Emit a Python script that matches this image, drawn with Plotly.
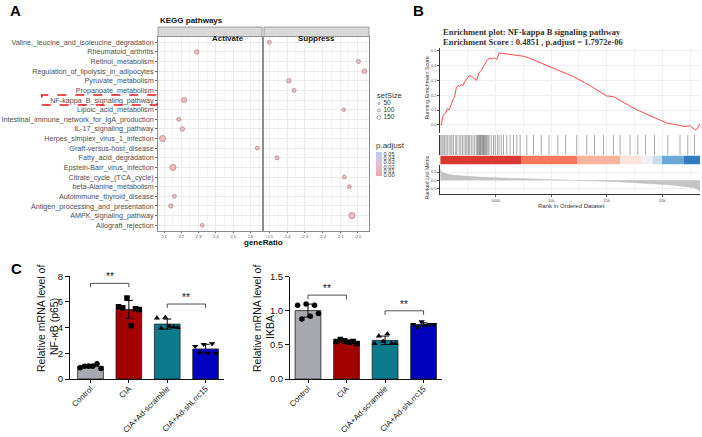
import plotly.graph_objects as go
import numpy as np

W, H = 702, 437
def fx(px): return px / W
def fy(py): return 1 - py / H

SANS = "Arial, Liberation Sans, sans-serif"
SERIF = "Liberation Serif, Times New Roman, serif"

# ---------------- Panel A data ----------------
pathways = ["Valine,_leucine_and_isoleucine_degradation", "Rheumatoid_arthritis", "Retinol_metabolism",
            "Regulation_of_lipolysis_in_adipocytes", "Pyruvate_metabolism", "Propanoate_metabolism",
            "NF-kappa_B_signaling_pathway", "Lipoic_acid_metabolism",
            "Intestinal_immune_network_for_IgA_production", "IL-17_signaling_pathway",
            "Herpes_simplex_virus_1_infection", "Graft-versus-host_disease", "Fatty_acid_degradation",
            "Epstein-Barr_virus_infection", "Citrate_cycle_(TCA_cycle)", "beta-Alanine_metabolism",
            "Autoimmune_thyroid_disease", "Antigen_processing_and_presentation", "AMPK_signaling_pathway",
            "Allograft_rejection"]

act_paths = ["Rheumatoid_arthritis", "NF-kappa_B_signaling_pathway", "Intestinal_immune_network_for_IgA_production",
             "IL-17_signaling_pathway", "Herpes_simplex_virus_1_infection", "Graft-versus-host_disease",
             "Epstein-Barr_virus_infection", "Autoimmune_thyroid_disease", "Antigen_processing_and_presentation",
             "Allograft_rejection"]
act_ratio = [2.289, 2.216, 2.185, 2.206, 2.092, 2.639, 2.152, 2.160, 2.139, 2.321]
act_size = [90, 110, 70, 90, 150, 65, 145, 65, 80, 60]
act_padj = [0.001, 0.0005, 0.002, 0.001, 0.0008, 0.003, 0.0007, 0.002, 0.001, 0.002]

sup_paths = ["Valine,_leucine_and_isoleucine_degradation", "Retinol_metabolism",
             "Regulation_of_lipolysis_in_adipocytes", "Pyruvate_metabolism", "Propanoate_metabolism",
             "Lipoic_acid_metabolism", "Fatty_acid_degradation", "Citrate_cycle_(TCA_cycle)",
             "beta-Alanine_metabolism", "AMPK_signaling_pathway"]
sup_ratio = [-2.500, -1.997, -1.963, -2.390, -2.360, -2.080, -2.457, -2.076, -2.048, -2.033]
sup_size = [65, 70, 90, 85, 70, 55, 70, 65, 65, 150]
sup_padj = [0.002, 0.002, 0.001, 0.001, 0.002, 0.003, 0.002, 0.002, 0.002, 0.0008]

size_levels = [50, 100, 150]
padj_ticks = [0.00, 0.01, 0.02, 0.03, 0.04, 0.05]
act_ticks = [2.1, 2.2, 2.3, 2.4, 2.5, 2.6]
sup_ticks = [-2.5, -2.4, -2.3, -2.2, -2.1, -2.0]

# ---------------- Panel B data ----------------
es_rank = [0, 120, 200, 300, 500, 650, 800, 1000, 1150, 1300, 1450, 1600, 1750, 1900, 2050, 2200, 2400,
           2600, 2800, 3000, 3300, 3450, 3600, 3750, 3900, 4050, 4200, 4350, 4500, 4700, 4900, 5100, 5300,
           5600, 6000, 6500, 7000, 7500, 8000, 9000, 10000, 11000, 12000, 13000, 14000, 15000, 15600,
           16500, 17500, 18500, 19500, 20500, 21000, 21500, 22000, 22500, 23000, 23200, 23400]
es_score = [0.0, 0.0, 0.05, 0.07, 0.08, 0.11, 0.10, 0.15, 0.17, 0.19, 0.25, 0.265, 0.26, 0.27, 0.265, 0.29,
            0.31, 0.33, 0.33, 0.315, 0.30, 0.345, 0.36, 0.37, 0.395, 0.41, 0.435, 0.44, 0.45, 0.445, 0.45,
            0.44, 0.485, 0.48, 0.478, 0.472, 0.466, 0.462, 0.45, 0.42, 0.39, 0.36, 0.325, 0.285, 0.24,
            0.195, 0.19, 0.15, 0.11, 0.075, 0.04, 0.01, 0.005, 0.0, -0.01, -0.005, -0.035, -0.02, 0.01]
hit_ranks = [40, 150, 260, 380, 520, 640, 800, 950, 1050, 1200, 1400, 1500, 1700, 1850, 2000, 2150, 2300,
             2400, 2550, 2650, 2800, 2950, 3100, 3250, 3350, 3420, 3500, 3560, 3620, 3700, 3780, 3850,
             3900, 3980, 4050, 4130, 4200, 4300, 4400, 4600, 4800, 4950, 5150, 5300, 5500, 5700, 6000,
             6300, 6600, 6900, 7200, 7800, 8400, 9100, 9800, 10600, 11300, 12300, 13200, 13900, 14700,
             15600, 16200, 17100, 17800, 18500, 19300, 20500, 21600, 22300, 22900]
metric_rank = [0, 100, 300, 700, 1200, 2000, 3500, 5000, 7500, 9500, 11500, 12500, 14000, 16000, 18000,
               19800, 21000, 22000, 22800, 23200, 23400]
metric_val = [0.68, 0.55, 0.45, 0.36, 0.3, 0.25, 0.19, 0.15, 0.11, 0.07, 0.03, 0.0, -0.04, -0.09, -0.15,
              -0.24, -0.3, -0.37, -0.45, -0.56, -0.7]
strip_edges = [0, 7280, 12320, 16200, 18160, 19170, 19980, 21960, 23400]
strip_colors = ["#d93a33", "#f7785a", "#fbb39d", "#fde3d8", "#eef0f9", "#c7dcee", "#6aaad9", "#2f7bc0"]
rank_ticks = [5000, 10000, 15000, 20000]

# ---------------- Panel C data ----------------
groups = ["Control", "CIA", "CIA+Ad-scramble", "CIA+Ad-shLrrc15"]
group_colors = ["#a8a8b0", "#a30000", "#0b7b8c", "#0000bf"]
group_symbols = ["circle", "square", "triangle-up", "triangle-down"]
nfkb_vals = [[0.88, 1.0, 1.02, 1.02, 1.18, 0.82],
             [5.62, 5.55, 6.3, 4.15, 5.48, 5.42],
             [4.75, 3.95, 4.8, 4.1, 4.05, 4.0],
             [2.55, 2.05, 2.7, 2.0, 2.75, 2.0]]
ikba_vals = [[1.08, 0.88, 1.1, 0.92, 1.08, 0.96],
             [0.55, 0.58, 0.56, 0.54, 0.55, 0.52],
             [0.52, 0.63, 0.55, 0.66, 0.52, 0.52],
             [0.8, 0.76, 0.84, 0.79, 0.8, 0.8]]
nfkb_brackets = [(0, 1, 7.45, "**"), (2, 3, 5.84, "**")]
ikba_brackets = [(0, 1, 1.23, "**"), (2, 3, 1.0, "**")]

# ---------------- Build figure ----------------
fig = go.Figure()

def size_px(s):
    return 2.0 + s / 36.0

cscale = [[0, "#f4a3a3"], [0.5, "#dcc3d2"], [1, "#b8cde6"]]

fig.add_trace(go.Scatter(
    x=act_ratio, y=[pathways.index(p) for p in act_paths], mode="markers", xaxis="x", yaxis="y",
    marker=dict(size=[size_px(s) for s in act_size], color=act_padj, coloraxis="coloraxis",
                line=dict(color="#8a5555", width=0.8)), hoverinfo="skip"))
fig.add_trace(go.Scatter(
    x=sup_ratio, y=[pathways.index(p) for p in sup_paths], mode="markers", xaxis="x2", yaxis="y2",
    marker=dict(size=[size_px(s) for s in sup_size], color=sup_padj, coloraxis="coloraxis",
                line=dict(color="#8a5555", width=0.8)), hoverinfo="skip"))
# setSize legend
fig.add_trace(go.Scatter(
    x=[0] * len(size_levels), y=list(range(len(size_levels))), mode="markers", xaxis="x9", yaxis="y9",
    marker=dict(size=[size_px(s) * 0.6 for s in size_levels], color="white",
                line=dict(color="#555", width=0.8)), hoverinfo="skip", cliponaxis=False))
fig.add_trace(go.Scatter(
    x=[0.9] * len(size_levels), y=list(range(len(size_levels))), mode="text", xaxis="x9", yaxis="y9",
    text=[str(s) for s in size_levels], textposition="middle right",
    textfont=dict(family=SANS, size=6.5, color="#333"), hoverinfo="skip", cliponaxis=False))

# Panel B traces
fig.add_trace(go.Scatter(x=es_rank, y=es_score, mode="lines", xaxis="x3", yaxis="y3",
                         line=dict(color="#ff4a4a", width=1), hoverinfo="skip"))
bx, by = [], []
for r in hit_ranks:
    bx += [r, r, None]
    by += [0, 1, None]
fig.add_trace(go.Scatter(x=bx, y=by, mode="lines", xaxis="x4", yaxis="y4",
                         line=dict(color="rgba(40,40,40,0.5)", width=0.8), hoverinfo="skip"))
fig.add_trace(go.Bar(y=[0] * len(strip_colors), x=np.diff(strip_edges), base=strip_edges[:-1],
                     orientation="h", xaxis="x5", yaxis="y5", width=1,
                     marker=dict(color=strip_colors, line=dict(width=0)), hoverinfo="skip"))
fig.add_trace(go.Scatter(x=metric_rank, y=metric_val, mode="lines", fill="tozeroy", xaxis="x6", yaxis="y6",
                         line=dict(color="#bdbdbd", width=0.5), fillcolor="#c4c4c4", hoverinfo="skip"))

# Panel C traces
offsets = [-0.27, -0.16, -0.05, 0.06, 0.17, 0.27]
for vals, xa, ya in [(nfkb_vals, "x7", "y7"), (ikba_vals, "x8", "y8")]:
    means = [float(np.mean(v)) for v in vals]
    sds = [float(np.std(v, ddof=1)) for v in vals]
    fig.add_trace(go.Bar(x=list(range(len(groups))), y=means, width=0.67, xaxis=xa, yaxis=ya,
                         marker=dict(color=group_colors, line=dict(color="#222", width=0.8)),
                         error_y=dict(type="data", array=sds, color="black", thickness=1, width=4),
                         hoverinfo="skip"))
    for gi, v in enumerate(vals):
        fig.add_trace(go.Scatter(x=[gi + o for o in offsets[:len(v)]], y=v, mode="markers", xaxis=xa, yaxis=ya,
                                 marker=dict(symbol=group_symbols[gi], size=5.5, color="black"),
                                 hoverinfo="skip"))

shapes = []
annotations = []
for (a, b, h, lab), xr, yr, d in [(br, "x7", "y7", 0.3) for br in nfkb_brackets] + \
                                  [(br, "x8", "y8", 0.06) for br in ikba_brackets]:
    shapes.append(dict(type="path", xref=xr, yref=yr,
                       path=f"M {a} {h - d} L {a} {h} L {b} {h} L {b} {h - d}",
                       line=dict(color="#222", width=0.8)))
    annotations.append(dict(x=(a + b) / 2, y=h, xref=xr, yref=yr, text=lab, showarrow=False,
                            yanchor="bottom", yshift=-1, font=dict(family=SANS, size=10, color="#111")))

# Panel A strips and decorations
for x0, x1, lab in [(158, 262, "Activate"), (264, 369, "Suppress")]:
    shapes.append(dict(type="rect", xref="paper", yref="paper", x0=fx(x0), x1=fx(x1), y0=fy(36.5), y1=fy(27),
                       fillcolor="#d9d9d9", line=dict(color="#8c8c8c", width=0.8)))
    annotations.append(dict(x=fx((x0 + x1) / 2), y=fy(31.8), xref="paper", yref="paper", text=f"<b>{lab}</b>",
                            showarrow=False, font=dict(family=SANS, size=8, color="#1a1a1a")))
shapes.append(dict(type="rect", xref="paper", yref="paper", x0=fx(41.7), x1=fx(157), y0=fy(105), y1=fy(95),
                   line=dict(color="#e8141c", width=1.5, dash="dash")))

def txt(px, py, t, size, color="#222", family=SANS, xanchor="center", angle=0, yanchor="middle"):
    annotations.append(dict(x=fx(px), y=fy(py), xref="paper", yref="paper", text=t, showarrow=False,
                            xanchor=xanchor, yanchor=yanchor, textangle=angle,
                            font=dict(family=family, size=size, color=color)))

txt(15, 10, "<b>A</b>", 15, "#000")
txt(418, 10, "<b>B</b>", 15, "#000")
txt(16, 268, "<b>C</b>", 15, "#000")
txt(158, 21, "<b>KEGG pathways</b>", 8, "#111", xanchor="left")
txt(263, 242.5, "<b>geneRatio</b>", 8, "#111")
txt(375, 95.5, "setSize", 7.5, "#333", xanchor="left")
txt(441, 31.5, "<b>Enrichment plot: NF-kappa B signaling pathway</b>", 8.5, "#333", SERIF, xanchor="left")
txt(441, 42.5, "<b>Enrichment Score : 0.4851 , p.adjust = 1.7972e-06</b>", 8.5, "#333", SERIF, xanchor="left")
txt(426.5, 88, "Running Enrichment Score", 5.3, "#333", angle=-90)
txt(426.5, 178, "Ranked List Metric", 5.3, "#333", angle=-90)
txt(571, 205.5, "Rank in Ordered Dataset", 6, "#333")
txt(41, 319, "Relative mRNA level of", 10.5, "#111", angle=-90)
txt(54, 327, "NF-κB (p65)", 10.5, "#111", angle=-90)
txt(257, 319, "Relative mRNA level of", 10.5, "#111", angle=-90)
txt(270, 327, "IKBA", 10.5, "#111", angle=-90)

grid = "#ebebeb"
minor_grid = "#f4f4f4"
tickfont_tiny = dict(family=SANS, size=4, color="#4d4d4d")

def panelA_x(dom, rng, ticks):
    return dict(domain=dom, range=rng, tickvals=ticks, ticktext=[f"{t:.1f}" for t in ticks],
                tickfont=tickfont_tiny, ticks="outside", ticklen=1.5, tickcolor="#666", tickwidth=0.5,
                showgrid=True, gridcolor=grid, gridwidth=0.6, zeroline=False, automargin=False,
                minor=dict(dtick=0.05, tick0=ticks[0], showgrid=True, gridcolor=minor_grid, gridwidth=0.4),
                showline=True, mirror=True, linecolor="#8c8c8c", linewidth=0.8)

ydomA = [fy(231), fy(36.5)]
yrA = [len(pathways) - 0.4, -0.6]
layout_axes = dict(
    xaxis=panelA_x([fx(158), fx(262)], [2.0653, 2.6665], act_ticks),
    xaxis2=panelA_x([fx(264), fx(369)], [-2.530, -1.937], sup_ticks),
    yaxis=dict(domain=ydomA, range=yrA, tickvals=list(range(len(pathways))), ticktext=pathways,
               tickfont=dict(family=SANS, size=7.2, color="#4d4d4d"), ticks="outside", ticklen=2,
               tickcolor="#666", tickwidth=0.5, showgrid=True, gridcolor=grid, gridwidth=0.6, zeroline=False,
               showline=True, mirror=True, linecolor="#8c8c8c", linewidth=0.8, anchor="x", automargin=False),
    yaxis2=dict(domain=ydomA, range=yrA, tickvals=list(range(len(pathways))), showticklabels=False,
                showgrid=True, gridcolor=grid, gridwidth=0.6, zeroline=False, anchor="x2", automargin=False,
                showline=True, mirror=True, linecolor="#8c8c8c", linewidth=0.8),
    xaxis9=dict(domain=[fx(374), fx(384)], range=[-1, 1], visible=False, anchor="y9", automargin=False),
    yaxis9=dict(domain=[fy(121), fy(100)], range=[2.5, -0.5], visible=False, anchor="x9", automargin=False),
)

xB = [fx(440.2), fx(700)]
rB = [0, 23400]
def bx_axis(anchor, labels=False):
    d = dict(domain=xB, range=rB, anchor=anchor, showgrid=True, gridcolor="#efefef", gridwidth=0.6,
             zeroline=False, tickvals=rank_ticks, showticklabels=labels, automargin=False,
             minor=dict(tickvals=[2500, 7500, 12500, 17500, 22500], showgrid=True, gridcolor="#f3f3f3",
                        gridwidth=0.5))
    if labels:
        d.update(tickfont=tickfont_tiny, ticks="outside", ticklen=2, tickcolor="#555", tickwidth=0.5,
                 showline=True, linecolor="#333", linewidth=0.8)
    return d

layout_axes.update(
    xaxis3=bx_axis("y3"),
    yaxis3=dict(domain=[fy(133), fy(48)], range=[-0.054, 0.517], anchor="x3", automargin=False,
                tickvals=[0, 0.1, 0.2, 0.3, 0.4, 0.5], tickformat=".1f", tickfont=tickfont_tiny,
                ticks="outside", ticklen=2, tickcolor="#555", tickwidth=0.5, showgrid=True,
                gridcolor="#efefef", gridwidth=0.6, zeroline=False, showline=True, linecolor="#333",
                linewidth=0.8),
    xaxis4=bx_axis("y4"),
    yaxis4=dict(domain=[fy(155), fy(135)], range=[0, 1], anchor="x4", showticklabels=False, showgrid=False,
                zeroline=False, showline=True, linecolor="#333", linewidth=0.8, automargin=False),
    xaxis5=dict(domain=xB, range=rB, anchor="y5", visible=False, automargin=False),
    yaxis5=dict(domain=[fy(164.5), fy(155.5)], range=[-0.5, 0.5], anchor="x5", visible=False, automargin=False),
    xaxis6=bx_axis("y6", labels=True),
    yaxis6=dict(domain=[fy(194), fy(165)], range=[-0.84, 0.93], anchor="x6", tickvals=[-0.5, 0, 0.5],
                ticktext=["-0.5", "0.0", "0.5"], tickfont=tickfont_tiny, ticks="outside", ticklen=2,
                tickcolor="#555", tickwidth=0.5, showgrid=True, gridcolor="#efefef", gridwidth=0.6,
                zeroline=False, showline=True, linecolor="#333", linewidth=0.8, automargin=False),
)

def c_x(dom, rng, anchor):
    return dict(domain=dom, range=rng, anchor=anchor, tickvals=list(range(len(groups))), ticktext=groups,
                tickangle=-45, tickfont=dict(family=SANS, size=7.9, color="#111"), ticks="outside",
                ticklen=3, tickcolor="#111", tickwidth=1, showline=True, linecolor="#111", linewidth=1,
                showgrid=False, zeroline=False, automargin=False, ticklabelstandoff=-2)

def c_y(dom, rng, anchor, dtick, fmt):
    return dict(domain=dom, range=rng, anchor=anchor, dtick=dtick, tick0=0, tickformat=fmt,
                tickfont=dict(family=SANS, size=9.5, color="#111"), ticks="outside", ticklen=4,
                tickcolor="#111", tickwidth=1, showline=True, linecolor="#111", linewidth=1,
                showgrid=False, zeroline=False, automargin=False)

layout_axes.update(
    xaxis7=c_x([fx(70), fx(224)], [-0.535, 3.48], "y7"),
    yaxis7=c_y([fy(379), fy(276.3)], [0, 8], "x7", 2, "d"),
    xaxis8=c_x([fx(290), fx(441.7)], [-0.4675, 3.47], "y8"),
    yaxis8=c_y([fy(379), fy(276.7)], [0, 1.5], "x8", 0.5, ".1f"),
)

fig.update_layout(
    width=W, height=H, margin=dict(l=0, r=0, t=0, b=0, pad=0, autoexpand=False), showlegend=False,
    paper_bgcolor="white", plot_bgcolor="white", barmode="overlay",
    coloraxis=dict(cmin=-0.004, cmax=0.054, colorscale=cscale,
                   colorbar=dict(x=fx(376), xanchor="left", y=fy(138.5), yanchor="top", len=38, lenmode="pixels",
                                 thickness=6, thicknessmode="pixels", xpad=0, ypad=0, outlinewidth=0,
                                 tickvals=padj_ticks, ticktext=[f"{t:.2f}" for t in padj_ticks], ticks="",
                                 tickfont=dict(family=SANS, size=5.6, color="#333"),
                                 title=dict(text="p.adjust", side="top",
                                            font=dict(family=SANS, size=8, color="#333")))),
    shapes=shapes, annotations=annotations, **layout_axes)

fig.write_html("out.html")
